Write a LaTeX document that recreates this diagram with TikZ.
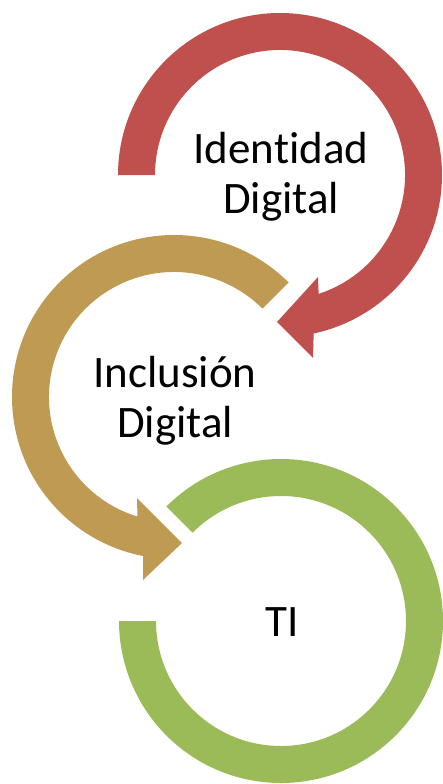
\documentclass[tikz,border=0pt]{standalone}
\usepackage{fontspec}
\setmainfont{Carlito}[RawFeature=-liga]
\definecolor{arrRed}{HTML}{C0504D}
\definecolor{arrGold}{HTML}{BF9A53}
\definecolor{arrGreen}{HTML}{9BBB59}
\begin{document}
\begin{tikzpicture}[x=1pt,y=1pt,
  lbl/.style={align=center,inner sep=0pt,text=black,font=\fontsize{45}{50}\selectfont}]
\useasboundingbox (0,0) rectangle (443,-784);
% red circular arrow
\begin{scope}[shift={(280,-175)}]
\fill[arrRed] (180:162) arc[start angle=180,end angle=-78,radius=162pt]
  -- (33,-183) -- (-3,-147) -- (38,-102)
  -- (-72:125) arc[start angle=-72,end angle=180,radius=125pt] -- cycle;
\end{scope}
% gold circular arrow
\begin{scope}[shift={(174,-397)}]
\fill[arrGold] (45:162) arc[start angle=45,end angle=259,radius=162pt]
  -- (-31,-183) -- (8,-146) -- (-37,-101)
  -- (253:125) arc[start angle=253,end angle=45,radius=125pt] -- cycle;
\end{scope}
% green ring
\begin{scope}[shift={(281,-621)}]
\fill[arrGreen] (135:162) arc[start angle=135,end angle=-180,radius=162pt]
  -- (180:125) arc[start angle=-180,end angle=135,radius=125pt] -- cycle;
\end{scope}
\node[lbl] (t1) at (281,-177) {Identidad\\Digital};
\node[lbl] (t2) at (175,-401) {Inclusión\\Digital};
\node[lbl] (t3) at (282,-622.5) {TI};
\end{tikzpicture}
\end{document}
